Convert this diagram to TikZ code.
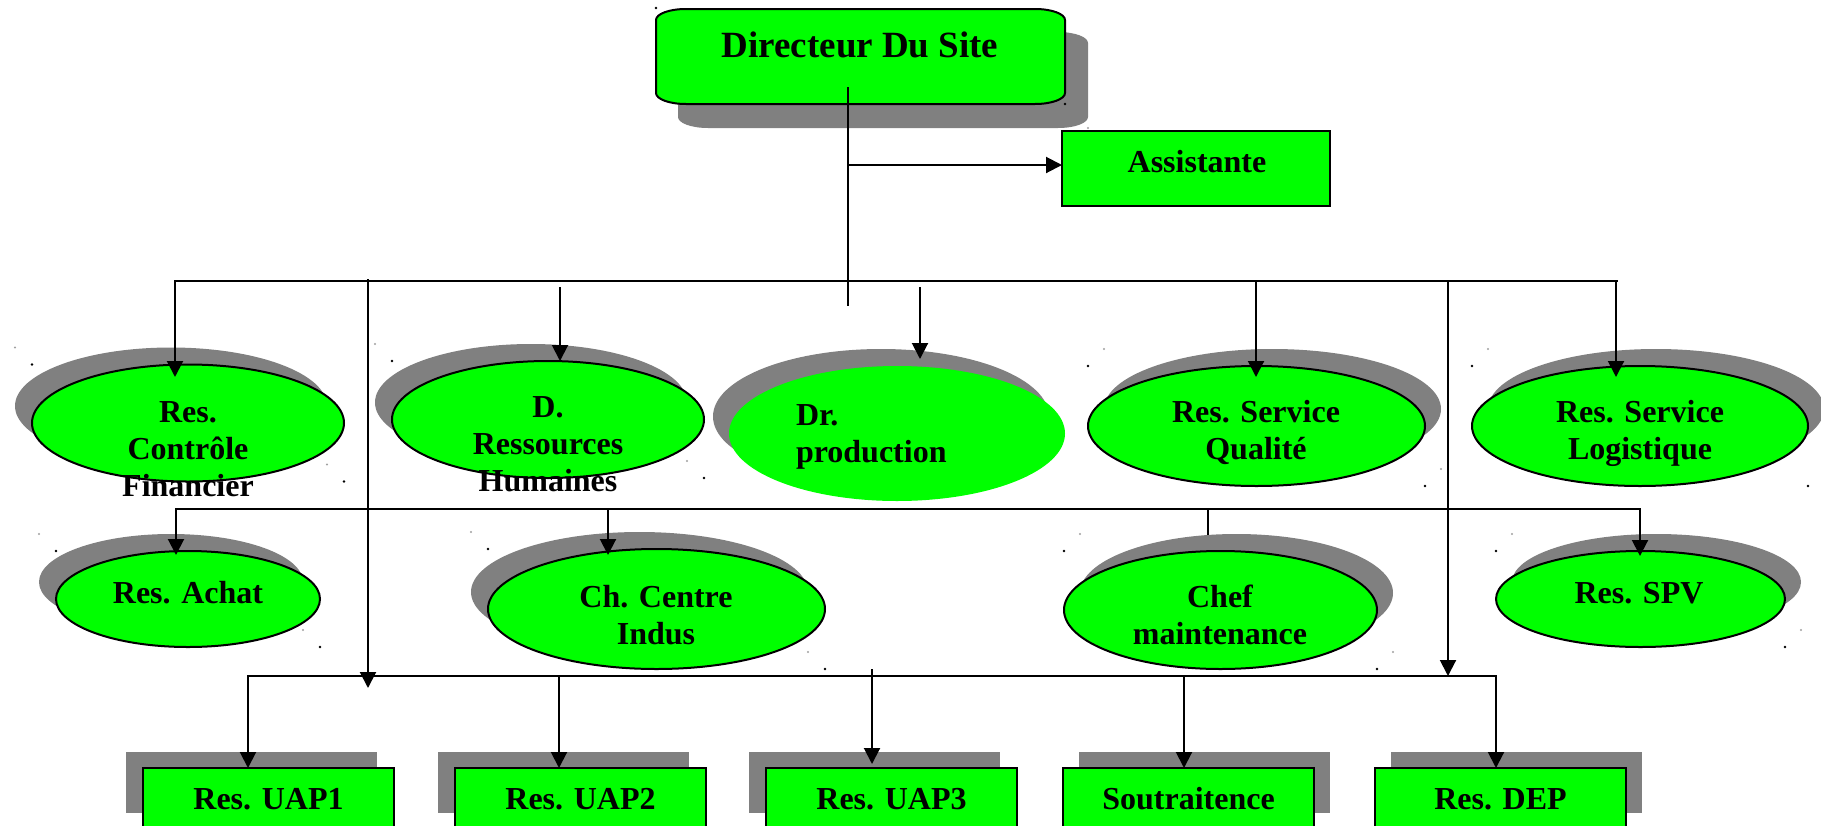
\documentclass[tikz,border=0pt]{standalone}
\usepackage{fontspec}
\setmainfont{Liberation Serif}
\usetikzlibrary{arrows.meta,shapes.geometric,calc}

\definecolor{leaf}{HTML}{00FF00}
\definecolor{shadowgray}{HTML}{808080}
\definecolor{handlegray}{HTML}{A0A0A0}

\tikzset{
  wire/.style={line width=2pt, line cap=rect},
  arr/.style={line width=2pt, -{Triangle[length=16pt,width=16pt]}},
  oval/.style={ellipse, fill=leaf, draw=black, line width=2pt, inner sep=0pt, outer sep=0pt},
  card/.style={rectangle, fill=leaf, draw=black, line width=2pt, inner sep=0pt, outer sep=0pt},
  frame/.style={rectangle, inner sep=0pt, outer sep=0pt},
  lbl/.style={font=\fontsize{32}{37}\selectfont\bfseries, inner sep=0pt, outer sep=0pt, anchor=base},
  biglbl/.style={font=\fontsize{37}{44}\selectfont\bfseries, inner sep=0pt, outer sep=0pt, anchor=base},
}

% shadowed ellipse: name, cx, cy, rx, ry, signed shadow shift in x, extra style
\newcommand\ovalunit[7]{%
  \fill[shadowgray] (#2#6,#3-17) ellipse [x radius=#4, y radius=#5];
  \node[oval, minimum width=2*#4 pt, minimum height=2*#5 pt, #7] (#1) at (#2,#3) {};
}
% selection handles left at the corners of an ellipse and of its shadow
\newcommand\handles[5]{%
  \fill[black] (#1-#3,#2-#4) circle [radius=1.3];
  \fill[black] (#1+#3,#2+#4) circle [radius=1.3];
  \fill[handlegray] (#1-#3#5,#2-#4-17) circle [radius=1.1];
  \fill[handlegray] (#1+#3#5,#2+#4-17) circle [radius=1.1];
}
% shadowed box: name, x1, y1, x2, y2, signed shadow shift in x
\newcommand\boxunit[6]{%
  \fill[shadowgray] (#2#6,#3-16) rectangle (#4#6,#5-16);
  \node[card, minimum width=#4-#2 pt, minimum height=#5-#3 pt] (#1) at ({(#2+#4)/2},{(#3+#5)/2}) {};
}
% rectangle with elliptical corners: style, x1, y1, x2, y2
\newcommand\capsule[5]{%
  \path[#1] (#2,#3+11) .. controls (#2,#3+5) and (#2+13,#3) .. (#2+30,#3)
    -- (#4-30,#3) .. controls (#4-13,#3) and (#4,#3+5) .. (#4,#3+11)
    -- (#4,#5-11) .. controls (#4,#5-5) and (#4-13,#5) .. (#4-30,#5)
    -- (#2+30,#5) .. controls (#2+13,#5) and (#2,#5-5) .. (#2,#5-11) -- cycle;
}

\begin{document}
\begin{tikzpicture}[x=1pt,y=-1pt]
\clip (0,0) rectangle (1821,825);
\fill[white] (0,0) rectangle (1821,825);

% ---------- head of site ----------
\capsule{fill=shadowgray}{678}{32}{1088}{128}
\capsule{fill=leaf, draw=black, line width=2pt}{656}{9}{1065}{104}
\node[frame, minimum width=409pt, minimum height=95pt] (dir) at (860.5,56.5) {};
\node[biglbl] (dir-t) at (860,57) {Directeur Du Site};
\fill[black] (656,8) circle [radius=1.3];
\fill[black] (1065,104) circle [radius=1.3];
\fill[handlegray] (1088,128) circle [radius=1.1];

\node[card, minimum width=268pt, minimum height=75pt] (asst) at (1196,168.5) {};
\node[lbl] (asst-t) at (1197,172) {Assistante};

% ---------- first level ----------
\ovalunit{rcf}{188}{423}{156}{58.5}{-17}{}
\ovalunit{rh}{548}{419.5}{156}{58.5}{-17}{}
\ovalunit{prod}{897}{433.5}{168}{67.5}{-16}{draw=none}
\ovalunit{qual}{1256.5}{426}{168.5}{60}{+16}{}
\ovalunit{logi}{1640}{426}{168}{60}{+16}{}
\handles{188}{423}{156}{58.5}{-17}
\handles{548}{419.5}{156}{58.5}{-17}
\handles{1256.5}{426}{168.5}{60}{+16}
\handles{1640}{426}{168}{60}{+16}

\node[lbl] (rcf-t) at (188,422) {\begin{tabular}[t]{@{}c@{}}Res.\\Contrôle\\Financier\end{tabular}};
\node[lbl] (rh-t) at (548,417) {\begin{tabular}[t]{@{}c@{}}D.\\Ressources\\Humaines\end{tabular}};
\node[lbl, anchor=base west] (prod-t) at (796,425) {\begin{tabular}[t]{@{}l@{}}Dr.\\production\end{tabular}};
\node[lbl] (qual-t) at (1256,422) {\begin{tabular}[t]{@{}c@{}}Res. Service\\Qualité\end{tabular}};
\node[lbl] (logi-t) at (1640,422) {\begin{tabular}[t]{@{}c@{}}Res. Service\\Logistique\end{tabular}};

% ---------- second level ----------
\ovalunit{achat}{188}{599}{132}{48}{-17}{}
\ovalunit{ccid}{656.5}{609}{168.5}{60}{-17}{}
\ovalunit{chef}{1220.5}{610}{156.5}{59}{+16}{}
\ovalunit{spv}{1640.5}{599}{144.5}{48}{+16}{}
\handles{188}{599}{132}{48}{-17}
\handles{656.5}{609}{168.5}{60}{-17}
\handles{1220.5}{610}{156.5}{59}{+16}
\handles{1640.5}{599}{144.5}{48}{+16}

\node[lbl] (achat-t) at (188,603) {Res. Achat};
\node[lbl] (ccid-t) at (656,607) {\begin{tabular}[t]{@{}c@{}}Ch. Centre\\Indus\end{tabular}};
\node[lbl] (chef-t) at (1220,607) {\begin{tabular}[t]{@{}c@{}}Chef\\maintenance\end{tabular}};
\node[lbl] (spv-t) at (1639,603) {Res. SPV};

% ---------- third level ----------
\boxunit{uap1}{143}{768}{394}{829}{-17}
\boxunit{uap2}{455}{768}{706}{829}{-17}
\boxunit{uap3}{766}{768}{1017}{829}{-17}
\boxunit{sout}{1063}{768}{1314}{829}{+16}
\boxunit{dep}{1375}{768}{1626}{829}{+16}
\node[lbl] (uap1-t) at (268.5,809) {Res. UAP1};
\node[lbl] (uap2-t) at (580.5,809) {Res. UAP2};
\node[lbl] (uap3-t) at (891.5,809) {Res. UAP3};
\node[lbl] (sout-t) at (1188.5,809) {Soutraitence};
\node[lbl] (dep-t) at (1500.5,809) {Res. DEP};

% ---------- connectors ----------
\coordinate (stem) at (848,88);
\coordinate (stem-end) at (848,305);
\coordinate (asst-j) at (848,165);
\draw[wire] (stem) -- (stem-end);
\draw[arr] (asst-j) -- (asst-j -| asst.west);

% top bus
\coordinate (t1) at (175,281);
\coordinate (t2) at (560,287);
\coordinate (t3) at (920,287);
\coordinate (t4) at (1256,281);
\coordinate (t5) at (1616,281);
\coordinate (t6) at (1617,281);
\draw[wire] (t1) -- (t6);
\draw[arr, shorten >=-12.5pt] (t1) -- (t1 |- rcf.north);
\draw[arr] (t2) -- (t2 |- rh.north);
\draw[arr, shorten >=7pt] (t3) -- (t3 |- prod.north);
\draw[arr, shorten >=-11pt] (t4) -- (t4 |- qual.north);
\draw[arr, shorten >=-11pt] (t5) -- (t5 |- logi.north);

% middle bus
\coordinate (m1) at (176,509);
\coordinate (m2) at (608,509);
\coordinate (m3) at (1208,509);
\coordinate (m4) at (1640,509);
\draw[wire] (m1) -- (m4);
\draw[arr, shorten >=-4pt] (m1) -- (m1 |- achat.north);
\draw[arr, shorten >=-6pt] (m2) -- (m2 |- ccid.north);
\draw[wire, line cap=butt, shorten >=16pt] (m3) -- (m3 |- chef.north);
\draw[arr, shorten >=-5pt] (m4) -- (m4 |- spv.north);

% bottom bus
\coordinate (b1) at (248,676);
\coordinate (b2) at (559,676);
\coordinate (b3) at (872,669);
\coordinate (b4) at (1184,676);
\coordinate (b5) at (1496,676);
\draw[wire] (b1) -- (b5);
\draw[arr] (b1) -- (b1 |- uap1.north);
\draw[arr] (b2) -- (b2 |- uap2.north);
\draw[arr, shorten >=4pt] (b3) -- (b3 |- uap3.north);
\draw[arr] (b4) -- (b4 |- sout.north);
\draw[arr] (b5) -- (b5 |- dep.north);

% long verticals crossing the levels
\coordinate (v1) at (368,279);
\coordinate (v1-end) at (368,688);
\coordinate (v2) at (1448,281);
\draw[arr] (v1) -- (v1-end);
\draw[arr] (v2) -- (v2 |- b1);
\end{tikzpicture}
\end{document}
